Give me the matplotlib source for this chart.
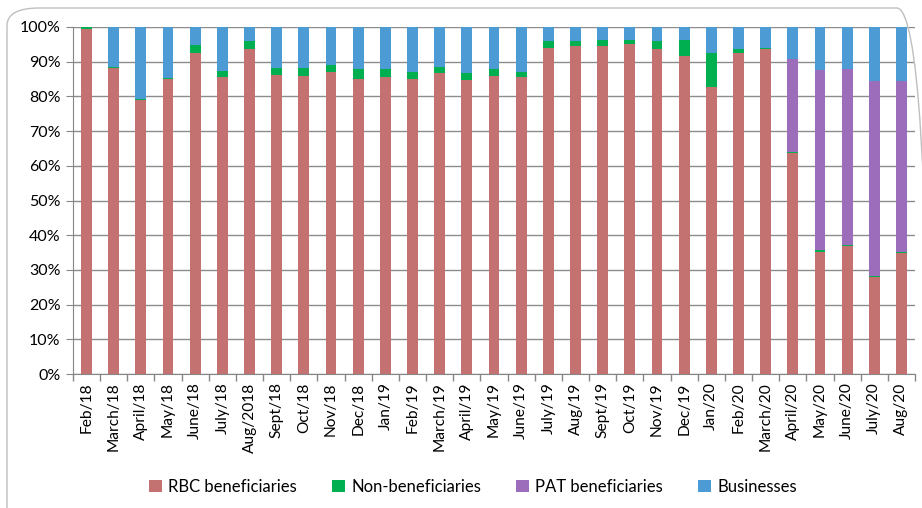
import matplotlib
matplotlib.use("Agg")
import matplotlib.pyplot as plt
import numpy as np
from matplotlib.patches import FancyBboxPatch
from matplotlib.ticker import FixedLocator, PercentFormatter

months = ["Feb/18", "March/18", "April/18", "May/18", "June/18", "July/18", "Aug/2018",
          "Sept/18", "Oct/18", "Nov/18", "Dec/18", "Jan/19", "Feb/19", "March/19",
          "April/19", "May/19", "June/19", "July/19", "Aug/19", "Sept/19", "Oct/19",
          "Nov/19", "Dec/19", "Jan/20", "Feb/20", "March/20", "April/20", "May/20",
          "June/20", "July/20", "Aug/20"]

rbc = [99.4, 88.2, 79.0, 85.1, 92.5, 85.5, 93.6, 86.2, 85.9, 87.1, 85.1, 85.5, 85.1, 86.7,
       84.8, 85.9, 85.5, 94.0, 94.4, 94.4, 95.2, 93.6, 91.7, 82.8, 92.5, 93.6, 63.6, 35.3,
       36.8, 27.9, 34.9]
non_ben = [0.6, 0.3, 0.3, 0.3, 2.3, 1.9, 2.4, 2.0, 2.3, 1.9, 2.8, 2.4, 2.0, 1.9,
           1.9, 2.0, 1.6, 2.0, 1.6, 1.9, 1.1, 2.4, 4.6, 9.7, 1.1, 0.4, 0.4, 0.5,
           0.4, 0.3, 0.4]
pat = [0.0, 0.0, 0.0, 0.0, 0.0, 0.0, 0.0, 0.0, 0.0, 0.0, 0.0, 0.0, 0.0, 0.0,
       0.0, 0.0, 0.0, 0.0, 0.0, 0.0, 0.0, 0.0, 0.0, 0.0, 0.0, 0.0, 26.9, 51.7,
       50.7, 56.2, 49.1]
businesses = [100 - a - b - c for a, b, c in zip(rbc, non_ben, pat)]

series = [("RBC beneficiaries", rbc, "#C47172"),
          ("Non-beneficiaries", non_ben, "#00B050"),
          ("PAT beneficiaries", pat, "#9B6DBB"),
          ("Businesses", businesses, "#4C9BD5")]

plt.rcParams['font.family'] = ['Lato', 'DejaVu Sans']

fig = plt.figure(figsize=(9.22, 5.08), dpi=100)
W, H = 922, 508
# chart border
border = FancyBboxPatch((7 / W, -0.05), 1.0, (1 - 8 / H) + 0.05,
                        boxstyle="round,pad=0,rounding_size=0.035",
                        transform=fig.transFigure, fill=False,
                        edgecolor="#BFBFBF", linewidth=1.0, clip_on=False)
fig.patches.append(border)

ax = fig.add_axes([73 / W, 1 - 374 / H, (915 - 73) / W, (374 - 27) / H])
x = np.arange(len(months))
bottom = np.zeros(len(months))
for name, vals, col in series:
    vals = np.array(vals, dtype=float)
    ax.bar(x, vals, width=0.4, bottom=bottom, color=col, label=name, zorder=3)
    bottom += vals

ax.set_xlim(-0.5, len(months) - 0.5)
ax.set_ylim(0, 100)
ax.set_yticks(np.arange(0, 101, 10))
ax.yaxis.set_major_formatter(PercentFormatter(decimals=0))
ax.set_xticks(x)
ax.set_xticklabels(months, rotation=90, fontsize=11.2)
ax.tick_params(axis='x', length=0, pad=6)
ax.xaxis.set_minor_locator(FixedLocator(np.arange(-0.5, len(months), 1)))
ax.tick_params(axis='x', which='minor', length=5, color='#868686', width=1)
ax.tick_params(axis='y', length=5, color='#868686', labelsize=11.5, pad=4)
ax.grid(axis='y', color='#8C8C8C', linewidth=1.0, zorder=0)
for s in ['top', 'right']:
    ax.spines[s].set_visible(False)
ax.spines['left'].set_color('#868686')
ax.spines['bottom'].set_color('#868686')

handles, labels = ax.get_legend_handles_labels()
fig.legend(handles, labels, loc='center', bbox_to_anchor=(473 / W, 1 - 487 / H),
           ncol=4, frameon=False, fontsize=12, handlelength=0.75, handleheight=0.75,
           columnspacing=2.1, handletextpad=0.4)

fig.savefig("out.png", dpi=100)
